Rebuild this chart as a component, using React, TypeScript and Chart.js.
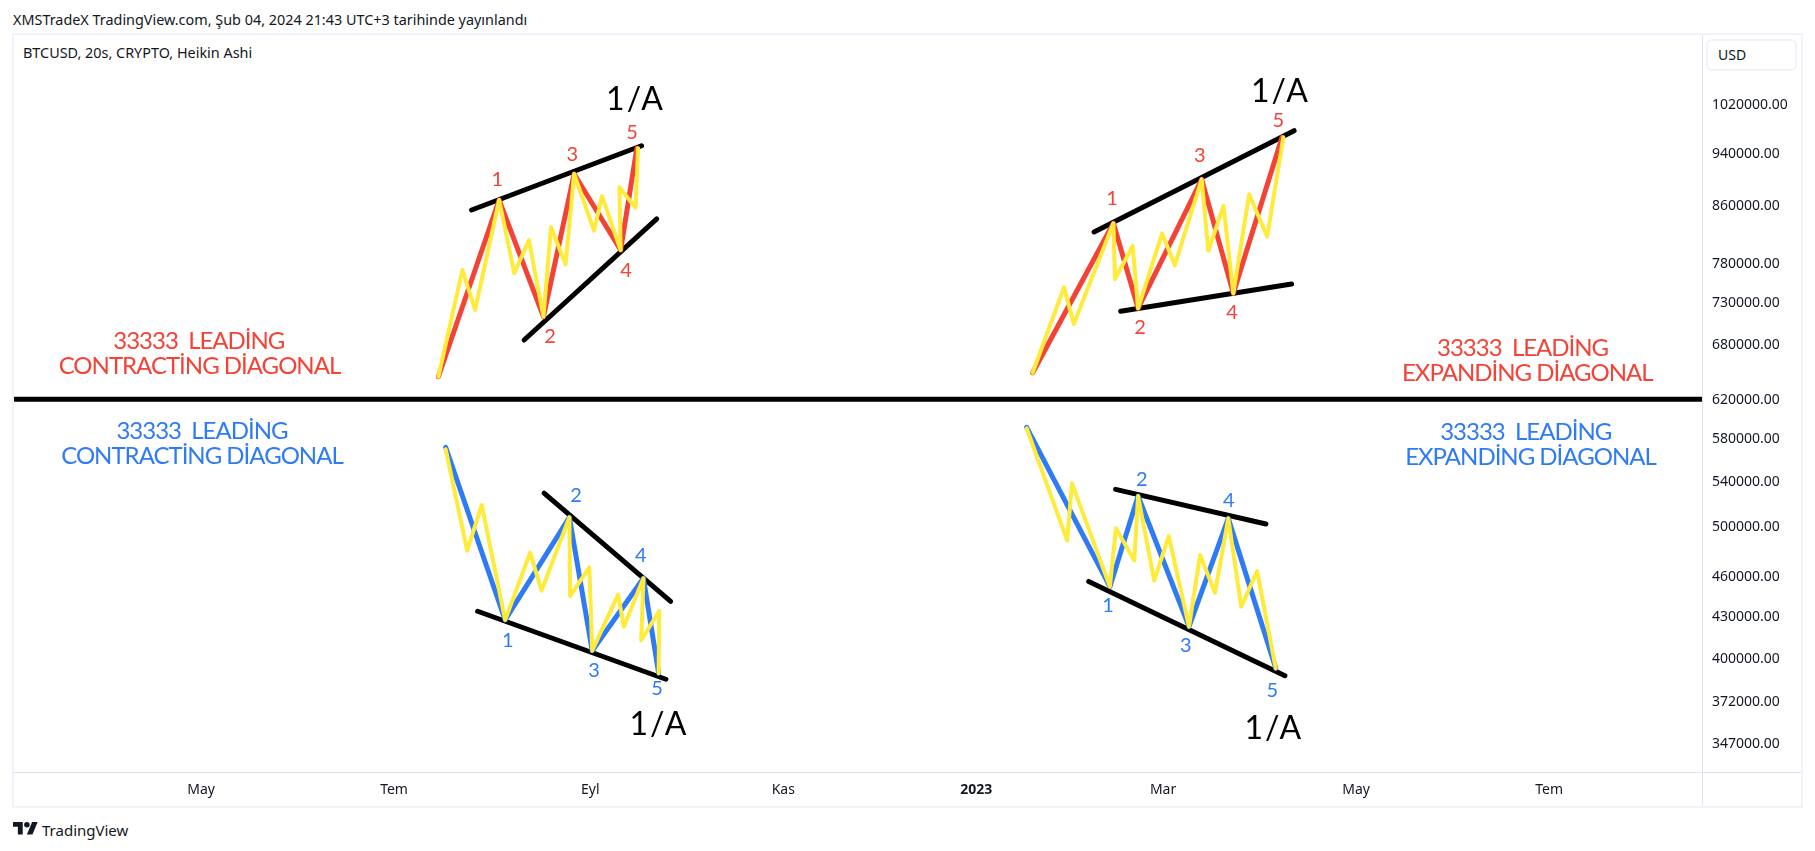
import React, { useEffect, useRef } from "react";
import { Chart, registerables } from "chart.js";

Chart.register(...registerables);

// ---- axes ----
const priceTicks = [1020000, 940000, 860000, 780000, 730000, 680000, 620000, 580000, 540000, 500000, 460000, 430000, 400000, 372000, 347000];
const priceMin = 330200;
const priceMax = 1146700;
// x values are days since 2022-01-01
const dayMin = 60.9;
const dayMax = 594.3;
const monthDays = [120, 181, 243, 304, 365, 424, 485, 546];
const monthLabels = ["May", "Tem", "Eyl", "Kas", "2023", "Mar", "May", "Tem"];

// ---- separator ----
const separatorDays = [60.9, 594.3];
const separatorPrices = [619900, 619900];

// ---- top-left: leading contracting diagonal ----
const a5Days = [195.0, 214.2, 228.2, 237.9, 252.6, 257.7];
const a5Prices = [643800, 867700, 712500, 906700, 797400, 947000];
const aSubDays = [195.0, 202.6, 206.6, 214.2, 219.0, 223.6, 228.2, 230.6, 235.2, 237.9, 244.2, 246.7, 252.6, 252.2, 257.3, 258.1];
const aSubPrices = [643800, 771000, 720600, 867700, 766700, 811000, 712500, 828700, 778500, 906700, 823900, 873600, 797400, 886600, 856500, 947000];
const aUpperDays = [205.5, 259.2];
const aUpperPrices = [853200, 951100];
const aLowerDays = [222.1, 264.0];
const aLowerPrices = [685000, 840400];
const aLabelDays = [213.6, 230.3, 237.3, 254.3, 256.2];
const aLabelPrices = [900200, 690100, 939000, 771000, 973900];

// ---- top-right: leading expanding diagonal ----
const b5Days = [382.8, 408.3, 416.1, 436.2, 446.2, 461.6];
const b5Prices = [648200, 834300, 722700, 898600, 741200, 964700];
const bSubDays = [382.8, 392.7, 395.8, 408.3, 408.8, 414.4, 416.1, 423.7, 427.7, 436.2, 438.3, 443.1, 446.2, 451.2, 456.9, 462.0];
const bSubPrices = [648200, 748800, 703800, 834300, 759400, 802800, 722700, 820300, 777100, 898600, 796500, 859000, 741200, 876200, 815600, 964700];
const bUpperDays = [402.2, 465.4];
const bUpperPrices = [822100, 975500];
const bLowerDays = [410.6, 464.6];
const bLowerPrices = [719000, 752900];
const bLabelDays = [407.9, 416.7, 435.6, 445.8, 460.4];
const bLabelPrices = [871100, 700500, 936300, 718600, 993300];

// ---- bottom-left: bearish contracting diagonal ----
const c5Days = [197.3, 216.1, 236.4, 243.6, 259.8, 264.6];
const c5Prices = [571500, 426900, 507700, 405300, 458000, 390200];
const cSubDays = [197.3, 204.1, 208.7, 216.1, 224.0, 227.6, 236.4, 236.6, 242.7, 243.6, 251.8, 253.6, 259.8, 259.1, 264.8, 264.6];
const cSubPrices = [569600, 479900, 518400, 426900, 478300, 448500, 507700, 444500, 466600, 405300, 445500, 422100, 458000, 412500, 433400, 390200];
const cUpperDays = [228.4, 268.4];
const cUpperPrices = [528800, 440500];
const cLowerDays = [207.4, 266.9];
const cLowerPrices = [433200, 386200];
const cLabelDays = [216.9, 238.5, 244.2, 259.0, 264.1];
const cLabelPrices = [412700, 527800, 392300, 476400, 381000];

// ---- bottom-right: bearish expanding diagonal ----
const d5Days = [380.9, 407.2, 416.1, 432.2, 444.6, 459.6];
const d5Prices = [591100, 451600, 526300, 422100, 506800, 393400];
const dSubDays = [380.9, 393.7, 395.2, 407.2, 409.1, 414.9, 416.1, 421.2, 425.8, 432.2, 435.7, 440.4, 444.6, 448.7, 453.7, 459.6];
const dSubPrices = [590100, 488100, 537700, 451600, 498400, 471900, 526300, 456200, 491900, 422100, 476400, 447000, 506800, 436500, 463700, 393400];
const dUpperDays = [409.0, 456.5];
const dUpperPrices = [532300, 502000];
const dLowerDays = [400.5, 462.5];
const dLowerPrices = [455600, 388500];
const dLabelDays = [406.6, 417.3, 431.2, 444.8, 458.5];
const dLabelPrices = [438300, 542300, 409200, 522800, 379800];

// ---- text ----
const waveNumbers = ["1", "2", "3", "4", "5"];
const degreeText = "1/A";
const degreeDays = [257.3, 461.1, 264.7, 459.0];
const degreePrices = [1028700, 1043700, 358100, 355700];
const leadingLine = "33333  LEADİNG";
const contractingLine = "CONTRACTİNG DİAGONAL";
const expandingLine = "EXPANDİNG DİAGONAL";
const redTitleTexts = [leadingLine, contractingLine, leadingLine, expandingLine];
const redTitleDays = [119.3, 119.5, 537.6, 539.1];
const redTitlePrices = [684900, 656700, 677300, 649200];
const blueTitleTexts = [leadingLine, contractingLine, leadingLine, expandingLine];
const blueTitleDays = [120.3, 120.3, 538.6, 540.1];
const blueTitlePrices = [588300, 564100, 587600, 563100];

const publisherText = "XMSTradeX TradingView.com, Şub 04, 2024 21:43 UTC+3 tarihinde yayınlandı";
const symbolText = "BTCUSD, 20s, CRYPTO, Heikin Ashi";
const currencyText = "USD";
const brandText = "TradingView";

const FONT = "'Noto Sans', sans-serif";
const MARK_FONT = "Lato, 'Noto Sans', sans-serif";
const RED = "#f44336";
const BLUE = "#2f7bf5";
const YELLOW = "#ffeb3b";
const BLACK = "#000000";
const INK = "#131722";
const BORDER = "#f0f3fa";
const RULE = "#e0e3eb";

const zip = (xs: number[], ys: number[]) => xs.map((x, i) => ({ x, y: ys[i] }));
const line = (xs: number[], ys: number[], color: string, width: number) => ({
  data: zip(xs, ys),
  showLine: true,
  borderColor: color,
  backgroundColor: color,
  borderWidth: width,
  borderCapStyle: "round" as const,
  borderJoinStyle: "round" as const,
  pointRadius: 0,
  tension: 0,
});

const annotationPlugin = {
  id: "annotations",
  afterDatasetsDraw(chart: any) {
    const { ctx, scales } = chart;
    const put = (text: string, day: number, price: number, font: string, color: string, spacing = "0px", nudge = 1) => {
      ctx.save();
      ctx.font = font;
      ctx.fillStyle = color;
      ctx.textAlign = "center";
      ctx.textBaseline = "middle";
      ctx.letterSpacing = spacing;
      ctx.fillText(text, scales.x.getPixelForValue(day), scales.y.getPixelForValue(price) + nudge);
      ctx.restore();
    };
    const numbers = (days: number[], prices: number[], color: string) =>
      waveNumbers.forEach((t, i) => put(t, days[i], prices[i], `20px ${MARK_FONT}`, color));
    numbers(aLabelDays, aLabelPrices, RED);
    numbers(bLabelDays, bLabelPrices, RED);
    numbers(cLabelDays, cLabelPrices, BLUE);
    numbers(dLabelDays, dLabelPrices, BLUE);
    degreeDays.forEach((d, i) => put(degreeText, d, degreePrices[i], `32px ${MARK_FONT}`, BLACK, "2px", 0.5));
    redTitleTexts.forEach((t, i) => put(t, redTitleDays[i], redTitlePrices[i], `24px ${MARK_FONT}`, RED, "-1px", 1.5));
    blueTitleTexts.forEach((t, i) => put(t, blueTitleDays[i], blueTitlePrices[i], `24px ${MARK_FONT}`, BLUE, "-1px", 1.5));
  },
};

const abs = (left: number, top: number, width: number, height: number): React.CSSProperties => ({
  position: "absolute",
  left,
  top,
  width,
  height,
  boxSizing: "border-box",
});

const textStyle = (left: number, center: number, size: number): React.CSSProperties => ({
  position: "absolute",
  left,
  top: center - 10,
  height: 20,
  lineHeight: "20px",
  fontFamily: FONT,
  fontSize: size,
  color: INK,
  whiteSpace: "nowrap",
});

export default function App() {
  const ref = useRef<HTMLCanvasElement | null>(null);

  useEffect(() => {
    if (!ref.current) return;
    const chart = new Chart(ref.current, {
      type: "scatter",
      data: {
        // Chart.js paints the first dataset last, so the topmost layer comes first.
        datasets: [
          line(aSubDays, aSubPrices, YELLOW, 4),
          line(bSubDays, bSubPrices, YELLOW, 4),
          line(cSubDays, cSubPrices, YELLOW, 4),
          line(dSubDays, dSubPrices, YELLOW, 4),
          line(a5Days, a5Prices, RED, 5),
          line(b5Days, b5Prices, RED, 5),
          line(c5Days, c5Prices, BLUE, 5),
          line(d5Days, d5Prices, BLUE, 5),
          line(aUpperDays, aUpperPrices, BLACK, 5),
          line(aLowerDays, aLowerPrices, BLACK, 5),
          line(bUpperDays, bUpperPrices, BLACK, 5),
          line(bLowerDays, bLowerPrices, BLACK, 5),
          line(cUpperDays, cUpperPrices, BLACK, 5),
          line(cLowerDays, cLowerPrices, BLACK, 5),
          line(dUpperDays, dUpperPrices, BLACK, 5),
          line(dLowerDays, dLowerPrices, BLACK, 5),
          line(separatorDays, separatorPrices, BLACK, 5),
        ] as any,
      },
      plugins: [annotationPlugin],
      options: {
        animation: false,
        responsive: false,
        devicePixelRatio: 1,
        layout: { padding: { left: 14, top: 35, right: 13, bottom: 44 } },
        plugins: { legend: { display: false }, tooltip: { enabled: false }, title: { display: false } },
        scales: {
          x: {
            type: "linear",
            min: dayMin,
            max: dayMax,
            grid: { display: false, drawTicks: false },
            border: { display: false },
            afterFit: (s: any) => { s.height = 35; },
            afterBuildTicks: (s: any) => { s.ticks = monthDays.map((value) => ({ value })); },
            ticks: {
              autoSkip: false,
              maxRotation: 0,
              padding: 10,
              color: INK,
              font: (c: any) => ({ family: FONT, size: 14, weight: c.tick && c.tick.value === monthDays[4] ? "bold" : "normal" }),
              callback: (v: any) => monthLabels[monthDays.indexOf(Number(v))] ?? "",
            },
          },
          y: {
            type: "logarithmic",
            position: "right",
            min: priceMin,
            max: priceMax,
            grid: { display: false, drawTicks: false },
            border: { display: false },
            afterFit: (s: any) => { s.width = 100; },
            afterBuildTicks: (s: any) => { s.ticks = priceTicks.map((value) => ({ value })); },
            ticks: {
              autoSkip: false,
              padding: 10,
              labelOffset: 1,
              color: INK,
              font: { family: FONT, size: 14 },
              callback: (v: any) => Number(v).toFixed(2),
            },
          },
        },
      } as any,
    });
    return () => chart.destroy();
  }, []);

  return (
    <div style={{ position: "fixed", inset: 0, background: "#ffffff", overflow: "hidden" }}>
      <div style={{ ...abs(12, 33, 1791, 775), border: `2px solid ${BORDER}` }} />
      <div style={{ ...abs(14, 772, 1787, 1), background: RULE }} />
      <div style={{ ...abs(1702, 35, 1, 771), background: RULE }} />
      <div style={textStyle(13, 20, 14.4)}>{publisherText}</div>
      <div style={textStyle(23, 53, 14.4)}>{symbolText}</div>
      <div style={{ ...abs(1706, 39, 91, 32), border: `2px solid ${BORDER}`, borderRadius: 6 }} />
      <div style={textStyle(1718, 54.5, 14)}>{currencyText}</div>
      <svg style={{ position: "absolute", left: 13, top: 822 }} width="25" height="12.5" viewBox="0 4 36 18">
        <path d="M14 22H7V11H0V4h14v18ZM28 22h-8l7.5-18h8L28 22Z" fill={INK} />
        <circle cx="20" cy="8" r="4" fill={INK} />
      </svg>
      <div style={textStyle(42, 830, 15)}>{brandText}</div>
      <canvas ref={ref} width={1815} height={851} style={{ position: "absolute", left: 0, top: 0, display: "block" }} />
    </div>
  );
}
